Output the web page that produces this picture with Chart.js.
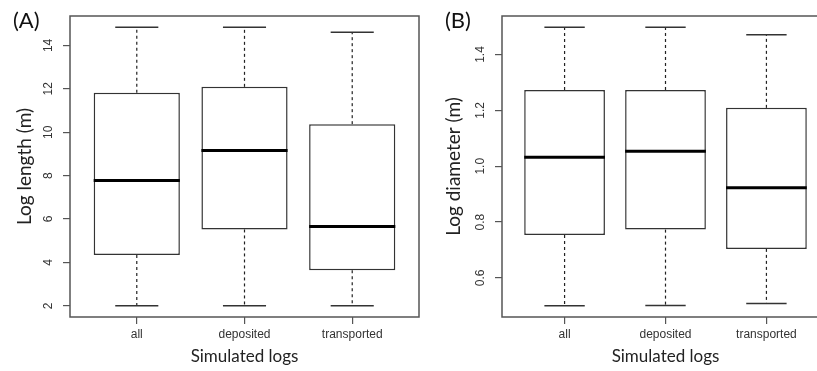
<!DOCTYPE html>
<html>
<head>
<meta charset="utf-8">
<script src="https://cdn.jsdelivr.net/npm/chart.js@4"></script>
<style>
  html, body { margin: 0; padding: 0; background: #fff; overflow: hidden; }
  #wrap { position: relative; width: 817px; height: 371px; overflow: hidden; }
  .panel { position: absolute; top: 0; width: 420px; height: 371px; }
  #panelA { left: 0; }
  #panelB { left: 420px; }
</style>
</head>
<body>
<div id="wrap">
  <div class="panel" id="panelA"><canvas id="chartA" width="420" height="371"></canvas></div>
  <div class="panel" id="panelB"><canvas id="chartB" width="420" height="371"></canvas></div>
</div>
<script>
const categories = ["all", "deposited", "transported"]

// (A) log length
const lengthMin = [2.0, 2.0, 2.0]
const lengthQ1 = [4.34, 5.52, 3.64]
const lengthMedian = [7.77, 9.16, 5.66]
const lengthQ3 = [11.82, 12.09, 10.37]
const lengthMax = [14.84, 14.84, 14.6]
const lengthTicks = [2, 4, 6, 8, 10, 12, 14]

// (B) log diameter
const diameterMin = [0.500, 0.501, 0.508]
const diameterQ1 = [0.754, 0.773, 0.704]
const diameterMedian = [1.032, 1.054, 0.923]
const diameterQ3 = [1.273, 1.273, 1.209]
const diameterMax = [1.498, 1.498, 1.471]
const diameterTicks = [0.6, 0.8, 1.0, 1.2, 1.4]

const tickFont = '"Liberation Sans", Arial, sans-serif'
const titleFont = 'Lato, "Open Sans", sans-serif'

let line = (ctx, x1, y1, x2, y2) => {
  ctx.beginPath()
  ctx.moveTo(x1, y1)
  ctx.lineTo(x2, y2)
  ctx.stroke()
}

let boxPlugin = (stats, yTicks, digits, panel) => ({
  id: 'boxplot',
  afterDatasetsDraw(chart) {
    const { ctx } = chart
    const y = chart.scales.y
    const meta = chart.getDatasetMeta(0)
    ctx.save()
    meta.data.forEach((bar, i) => {
      const cx = bar.x
      const half = bar.width / 2
      const yMin = y.getPixelForValue(stats.min[i])
      const yMax = y.getPixelForValue(stats.max[i])
      ctx.strokeStyle = '#222'
      ctx.lineWidth = 1.2
      ctx.setLineDash([3, 3])
      line(ctx, cx, y.getPixelForValue(stats.q3[i]), cx, yMax)
      line(ctx, cx, y.getPixelForValue(stats.q1[i]), cx, yMin)
      ctx.setLineDash([])
      ctx.strokeStyle = '#333'
      ctx.lineWidth = 1.5
      line(ctx, cx - half / 2, yMax, cx + half / 2, yMax)
      line(ctx, cx - half / 2, yMin, cx + half / 2, yMin)
      ctx.strokeStyle = '#000'
      ctx.lineWidth = 3
      const yMed = y.getPixelForValue(stats.median[i])
      line(ctx, cx - half, yMed, cx + half, yMed)
    })
    ctx.restore()
  },
  afterDraw(chart) {
    const { ctx, chartArea } = chart
    const y = chart.scales.y
    ctx.save()
    // frame round the plot region
    ctx.strokeStyle = '#555'
    ctx.lineWidth = 1.5
    ctx.strokeRect(chartArea.left, chartArea.top, chartArea.right - chartArea.left, chartArea.bottom - chartArea.top)
    // rotated y tick labels
    ctx.fillStyle = '#333'
    ctx.font = '12px ' + tickFont
    ctx.textAlign = 'center'
    ctx.textBaseline = 'middle'
    yTicks.forEach(v => {
      ctx.save()
      ctx.translate(chartArea.left - 21, y.getPixelForValue(v))
      ctx.rotate(-Math.PI / 2)
      ctx.fillText(v.toFixed(digits), 0, 0)
      ctx.restore()
    })
    // panel letter
    ctx.fillStyle = '#111'
    ctx.font = '22px ' + titleFont
    ctx.textAlign = 'left'
    ctx.fillText(panel.text, panel.x, 21)
    ctx.restore()
  }
})

let createChart = (id, stats, yTicks, digits, yTitle, panel, left, right, titleX) => {
  const lo = Math.min(...stats.min)
  const hi = Math.max(...stats.max)
  const ext = (hi - lo) * 0.04
  return new Chart(document.getElementById(id), {
    type: 'bar',
    data: {
      datasets: [{
        data: categories.map((c, i) => ({ x: i + 1, y: [stats.q1[i], stats.q3[i]] })),
        backgroundColor: '#fff',
        borderColor: '#333',
        borderWidth: 1.5,
        borderSkipped: false,
        categoryPercentage: 1,
        barPercentage: 0.8
      }]
    },
    options: {
      responsive: false,
      animation: false,
      layout: { padding: { top: 16, right: right, left: 0, bottom: 0 } },
      plugins: { legend: { display: false }, tooltip: { enabled: false } },
      scales: {
        x: {
          type: 'linear',
          offset: false,
          min: 0.38,
          max: 3.62,
          afterBuildTicks: s => { s.ticks = categories.map((c, i) => ({ value: i + 1 })) },
          afterFit: s => { s.height = 54 },
          ticks: {
            callback: v => categories[v - 1],
            font: { family: tickFont, size: 12 },
            color: '#333',
            padding: 3,
            maxRotation: 0
          },
          grid: { offset: false, drawOnChartArea: false, drawTicks: true, tickLength: 7, color: '#555', lineWidth: 1.2 },
          border: { display: false },
          title: {
            display: true,
            text: 'Simulated logs',
            font: { family: titleFont, size: 17 },
            color: '#222',
            padding: { top: 0, bottom: 4 }
          }
        },
        y: {
          min: lo - ext,
          max: hi + ext,
          afterBuildTicks: s => { s.ticks = yTicks.map(v => ({ value: v })) },
          afterFit: s => { s.width = left },
          ticks: { display: false },
          grid: { drawOnChartArea: false, drawTicks: true, tickLength: 7, color: '#555', lineWidth: 1.2 },
          border: { display: false },
          title: {
            display: true,
            text: yTitle,
            font: { family: titleFont, size: 19 },
            color: '#222',
            padding: { top: titleX, bottom: 0 }
          }
        }
      }
    },
    plugins: [boxPlugin(stats, yTicks, digits, panel)]
  })
}

createChart('chartA',
  { min: lengthMin, q1: lengthQ1, median: lengthMedian, q3: lengthQ3, max: lengthMax },
  lengthTicks, 0, 'Log length (m)', { text: '(A)', x: 13 }, 70, 1, 13)

createChart('chartB',
  { min: diameterMin, q1: diameterQ1, median: diameterMedian, q3: diameterQ3, max: diameterMax },
  diameterTicks, 1, 'Log diameter (m)', { text: '(B)', x: 25 }, 82, 11, 22)
</script>
</body>
</html>
